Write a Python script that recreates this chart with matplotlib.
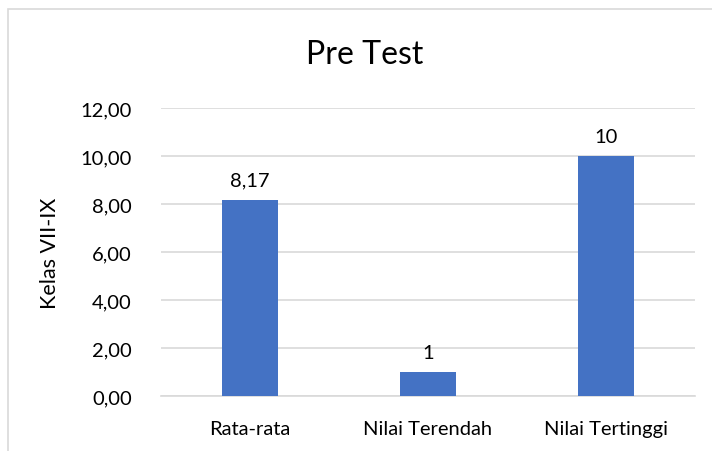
import matplotlib
matplotlib.use("Agg")
import matplotlib.pyplot as plt
from matplotlib.patches import Rectangle
from matplotlib.ticker import FuncFormatter

categories = ["Rata-rata", "Nilai Terendah", "Nilai Tertinggi"]
values = [8.17, 1, 10]
value_labels = ["8,17", "1", "10"]
title = "Pre Test"
ylabel = "Kelas VII-IX"

plt.rcParams['font.family'] = ['Lato', 'DejaVu Sans']

W, H = 712, 452
fig = plt.figure(figsize=(W / 100, H / 100), dpi=100)
fig.patch.set_facecolor("white")

# outer chart frame
fig.add_artist(Rectangle((8 / W, -0.05), 1.2, 1 - 10 / H + 0.05, transform=fig.transFigure,
                         fill=False, edgecolor="#d9d9d9", linewidth=1.2))

ax = fig.add_axes([161 / W, 1 - 397 / H, (695 - 161) / W, (397 - 109) / H])
x = list(range(len(categories)))
bars = ax.bar(x, values, width=0.31, color="#4472c4", zorder=3)
ax.set_xlim(-0.5, len(categories) - 0.5)
ax.set_ylim(0, 12)
ax.set_yticks([0, 2, 4, 6, 8, 10, 12])
ax.yaxis.set_major_formatter(FuncFormatter(lambda v, p: f"{v:.2f}".replace(".", ",")))
ax.set_xticks(x)
ax.set_xticklabels(categories)
ax.grid(axis="y", color="#d9d9d9", linewidth=1.2, zorder=0)
for s in ["top", "right", "left"]:
    ax.spines[s].set_visible(False)
ax.spines["bottom"].set_color("#d9d9d9")
ax.spines["bottom"].set_linewidth(1.2)
ax.tick_params(axis="both", length=0, labelsize=14.5, colors="black")
ax.tick_params(axis="y", pad=21)
ax.tick_params(axis="x", pad=17)

for b, lab in zip(bars, value_labels):
    ax.annotate(lab, (b.get_x() + b.get_width() / 2, b.get_height()),
                xytext=(0, 8), textcoords="offset points", ha="center", va="bottom", fontsize=14.5)

ax.set_ylabel(ylabel, fontsize=15.5)
ax.yaxis.set_label_coords((60 - 161) / (695 - 161), 0.5)
fig.text(365 / W, 1 - 55 / H, title, ha="center", va="center", fontsize=23)

fig.savefig("out.png", dpi=100, facecolor="white")
